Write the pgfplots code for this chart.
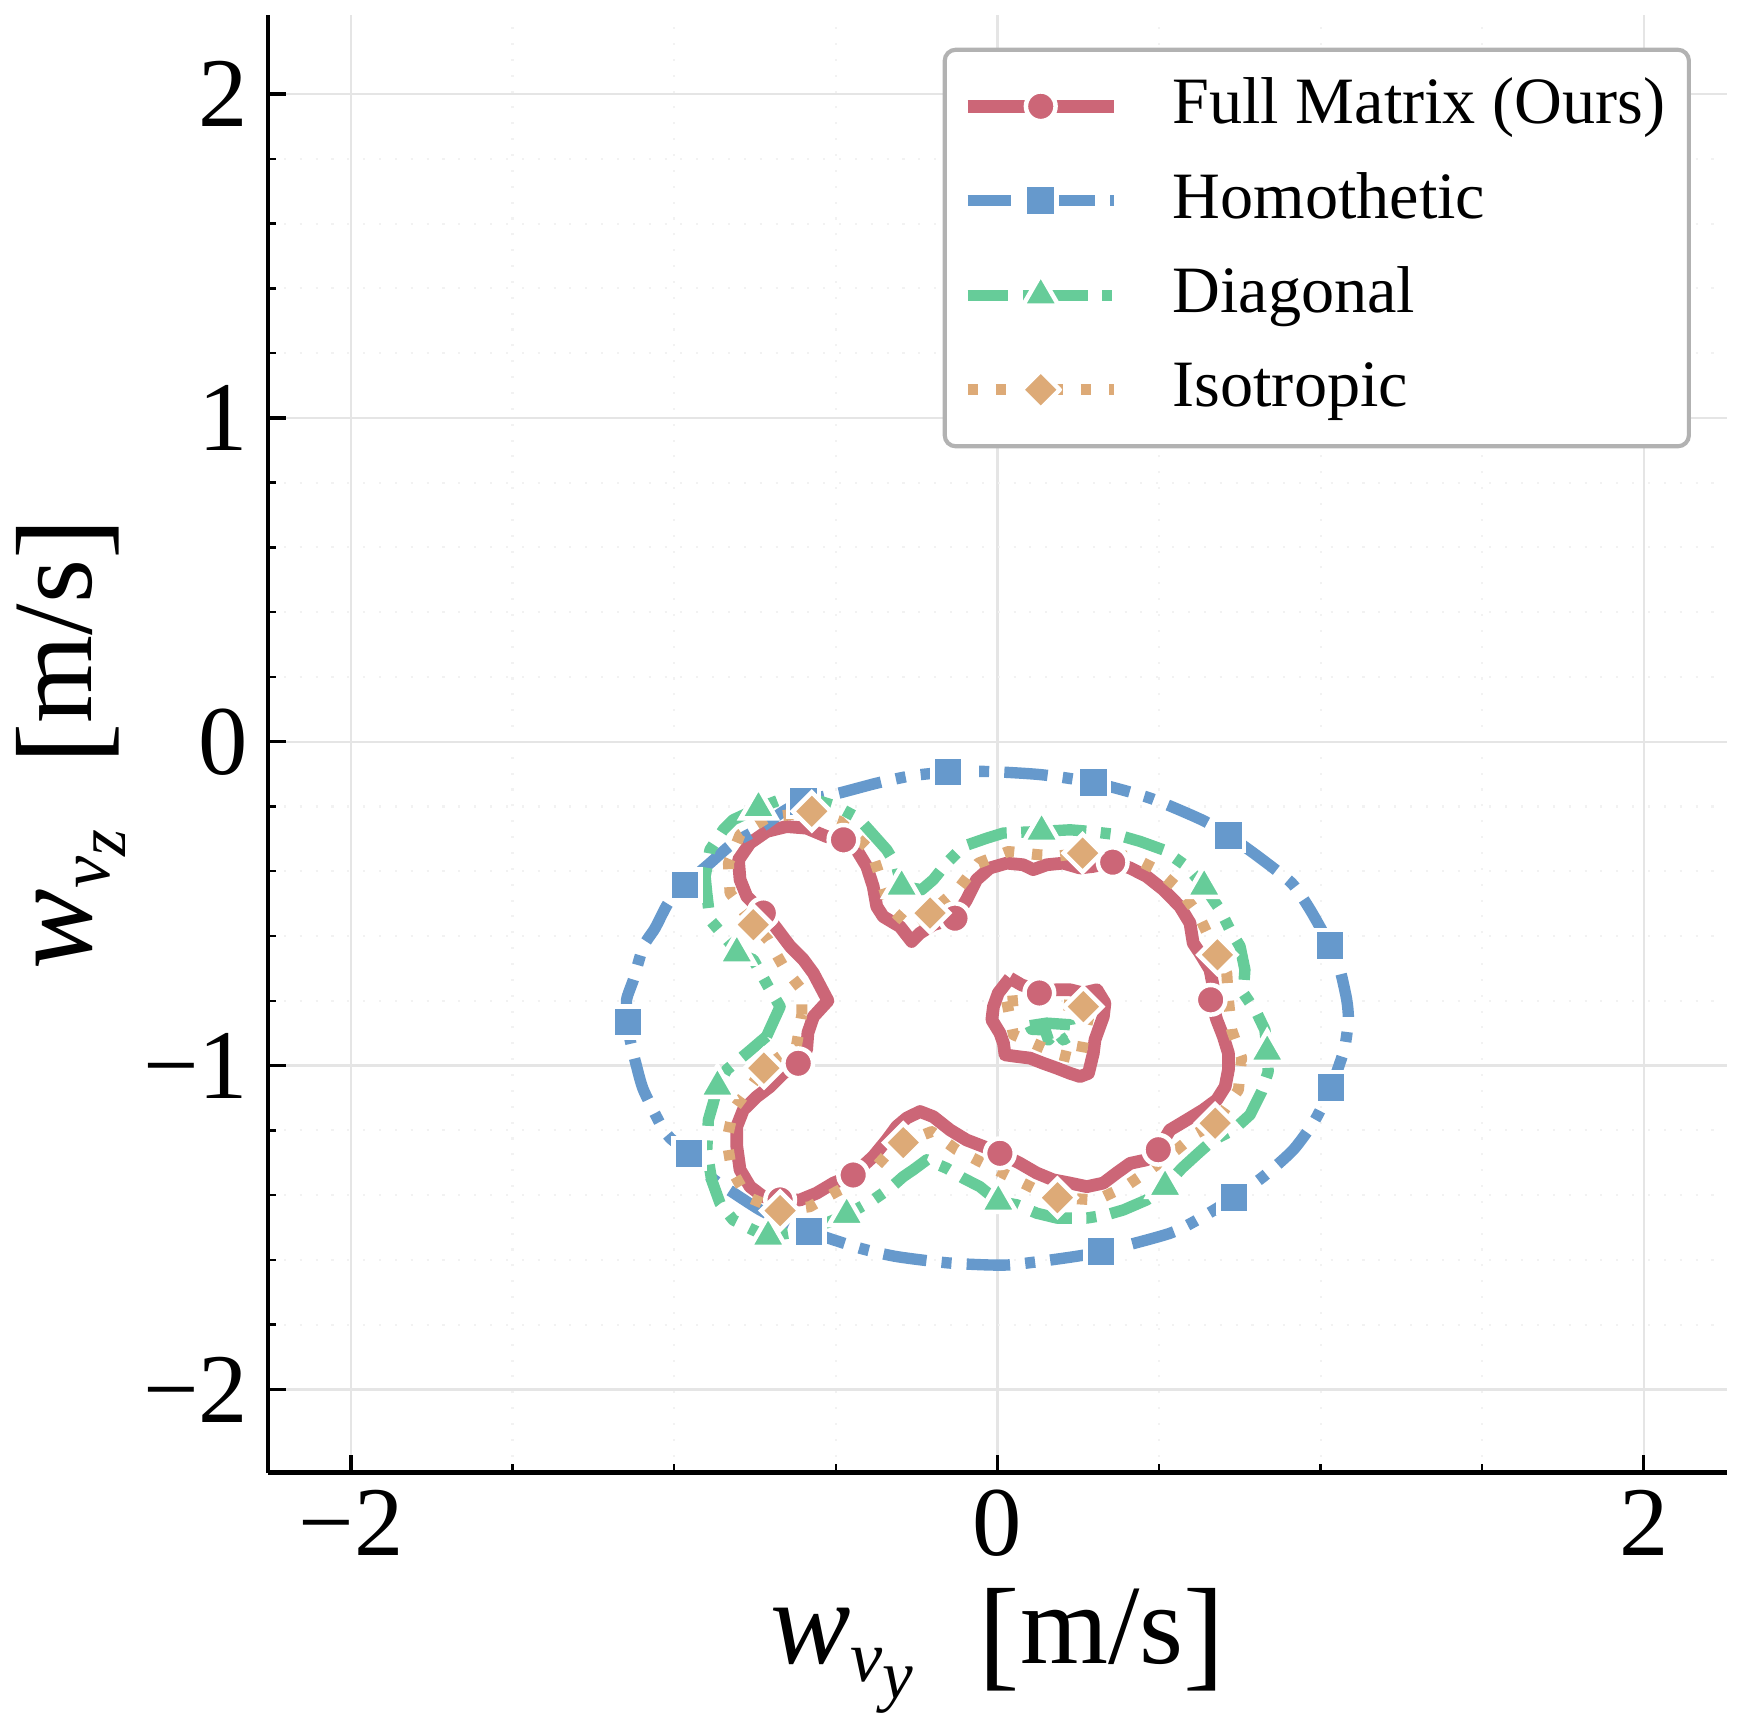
\documentclass[border=0pt]{standalone}
\usepackage{fontspec}
\setmainfont{Liberation Serif}
\usepackage{pgfplots}
\pgfplotsset{compat=1.18}
\definecolor{cred}{HTML}{CC6677}
\definecolor{cblue}{HTML}{6699CC}
\definecolor{cgreen}{HTML}{66CC99}
\definecolor{corange}{HTML}{DDAA77}
\newcommand{\lb}{\raisebox{-1.6pt}{\fontsize{18}{18}\selectfont [}}
\newcommand{\rb}{\raisebox{-1.6pt}{\fontsize{18}{18}\selectfont ]}}
\newcommand{\ww}{{\fontsize{17.5}{17.5}\selectfont\textit{w}}}
\tikzset{
  redln/.style={color=cred, line width=1.85pt, solid, line join=round},
  bluln/.style={color=cblue, line width=1.65pt, dash pattern=on 6.3pt off 2.2pt on 1.45pt off 2.2pt, line join=round},
  grnln/.style={color=cgreen, line width=1.65pt, dash pattern=on 5.9pt off 2.1pt on 1.45pt off 2.1pt, line join=round},
  orgln/.style={color=corange, line width=1.6pt, dash pattern=on 1.5pt off 2.6pt, line join=round},
  redmk/.style={mark=*, mark size=2.15pt, mark options={solid, fill=cred, draw=white, line width=0.65pt}},
  blumk/.style={mark=square*, mark size=2.25pt, mark options={solid, fill=cblue, draw=white, line width=0.65pt}},
  grnmk/.style={mark=triangle*, mark size=3.0pt, mark options={solid, fill=cgreen, draw=white, line width=0.65pt}},
  orgmk/.style={mark=square*, mark size=1.95pt, mark options={solid, rotate=45, fill=corange, draw=white, line width=0.65pt}},
}
\begin{document}
\begin{tikzpicture}
\useasboundingbox (-38.86pt,-37.9pt) rectangle (213.44pt,213.53pt);
\begin{axis}[
  at={(0pt,0pt)}, anchor=south west,
  scale only axis, width=211.56pt, height=211.35pt,
  xmin=-2.2565, xmax=2.2577, ymin=-2.257, ymax=2.244,
  axis x line*=bottom, axis y line*=left,
  axis line style={line width=0.7pt, black},
  tick align=inside,
  major tick length=2.6pt, minor tick length=1.2pt,
  major tick style={line width=0.5pt, black},
  minor tick style={line width=0.35pt, black},
  xtick={-2,0,2}, xticklabels={−2,0,2},
  ytick={-2,-1,0,1,2}, yticklabels={−2,−1,0,1,2},
  minor x tick num=3, minor y tick num=4,
  grid=both,
  major grid style={line width=0.35pt, color=black!10},
  minor grid style={line width=0.3pt, color=black!5, dotted},
  tick label style={font=\fontsize{14.3}{14.3}\selectfont},
  xticklabel style={anchor=north, inner sep=0pt, yshift=-2.3pt},
  yticklabel style={anchor=east, inner sep=0pt, xshift=-2.7pt},
  xlabel={\ww\raisebox{-2.6pt}{\fontsize{10.5}{10.5}\selectfont\textit{v}\raisebox{-2.4pt}{\fontsize{10}{10}\selectfont\textit{y}}}\hspace{9.5pt}\lb m/s\rb},
  ylabel={\ww\raisebox{-2.6pt}{\fontsize{10.5}{10.5}\selectfont\textit{v}\raisebox{-2.4pt}{\fontsize{10}{10}\selectfont\textit{z}}}\hspace{9.5pt}\lb m/s\rb},
  xlabel style={at={(axis description cs:0.5,-0.1311)}, anchor=base, font=\fontsize{16.4}{16.4}\selectfont, inner sep=0pt},
  ylabel style={at={(axis description cs:-0.1210,0.5)}, anchor=base, font=\fontsize{16.4}{16.4}\selectfont, inner sep=0pt},
  legend style={
    at={(axis description cs:0.9753,0.9776)}, anchor=north east,
    draw=black!30, line width=0.6pt, rounded corners=1.6pt,
    inner xsep=2.4pt, inner ysep=2.7pt,
    font=\fontsize{9.6}{9.6}\selectfont,
    row sep=2.7pt, column sep=6.6pt,
    nodes={inner sep=1pt, text height=7pt, text depth=2pt},
  },
  legend cell align=left,
  legend image code/.code={\draw[mark repeat=2,mark phase=2,#1] plot coordinates {(0pt,0pt) (10.6pt,0pt) (21.2pt,0pt)};},
]
\addlegendimage{redln, redmk}
\addlegendentry{Full Matrix (Ours)}
\addlegendimage{bluln, blumk}
\addlegendentry{Homothetic}
\addlegendimage{grnln, grnmk}
\addlegendentry{Diagonal}
\addlegendimage{orgln, orgmk}
\addlegendentry{Isotropic}

% Full Matrix (Ours)
\addplot[redln, forget plot] coordinates {
(-0.616,-0.993) (-0.590,-0.951) (-0.586,-0.899) (-0.569,-0.849) (-0.524,-0.800) (-0.569,-0.715) (-0.600,-0.673) (-0.641,-0.632) (-0.672,-0.591) (-0.703,-0.550) (-0.734,-0.519) (-0.775,-0.478) (-0.796,-0.426) (-0.801,-0.365) (-0.765,-0.313) (-0.713,-0.277) (-0.652,-0.262) (-0.590,-0.267) (-0.528,-0.293) (-0.476,-0.303) (-0.435,-0.334) (-0.404,-0.385) (-0.384,-0.447) (-0.373,-0.509) (-0.353,-0.540) (-0.301,-0.571) (-0.265,-0.617) (-0.239,-0.591) (-0.198,-0.565) (-0.131,-0.545) (-0.095,-0.488) (-0.064,-0.426) (-0.023,-0.390) (0.029,-0.375) (0.080,-0.380) (0.111,-0.395) (0.153,-0.380) (0.204,-0.375) (0.256,-0.390) (0.297,-0.385) (0.357,-0.372) (0.411,-0.390) (0.462,-0.416) (0.514,-0.457) (0.565,-0.509) (0.596,-0.560) (0.606,-0.622) (0.627,-0.653) (0.658,-0.704) (0.668,-0.756) (0.661,-0.797) (0.679,-0.859) (0.699,-0.910) (0.715,-0.962) (0.715,-1.013) (0.705,-1.065) (0.679,-1.106) (0.637,-1.137) (0.586,-1.168) (0.534,-1.199) (0.498,-1.260) (0.462,-1.291) (0.411,-1.302) (0.369,-1.332) (0.328,-1.363) (0.277,-1.374) (0.225,-1.363) (0.173,-1.353) (0.122,-1.332) (0.070,-1.302) (0.008,-1.271) (-0.043,-1.250) (-0.095,-1.230) (-0.146,-1.199) (-0.198,-1.158) (-0.239,-1.142) (-0.280,-1.162) (-0.311,-1.188) (-0.342,-1.230) (-0.384,-1.281) (-0.446,-1.338) (-0.507,-1.363) (-0.559,-1.394) (-0.610,-1.415) (-0.667,-1.415) (-0.724,-1.405) (-0.765,-1.374) (-0.796,-1.322) (-0.806,-1.250) (-0.806,-1.188) (-0.786,-1.137) (-0.744,-1.096) (-0.703,-1.065) (-0.662,-1.024) (-0.616,-0.993)
};
\addplot[redln, forget plot] coordinates {
(0.039,-0.730) (0.075,-0.751) (0.132,-0.771) (0.184,-0.766) (0.225,-0.766) (0.266,-0.776) (0.308,-0.766) (0.333,-0.807) (0.328,-0.849) (0.313,-0.890) (0.302,-0.921) (0.297,-0.962) (0.282,-1.024) (0.256,-1.034) (0.225,-1.024) (0.184,-1.008) (0.142,-0.993) (0.101,-0.977) (0.060,-0.972) (0.024,-0.967) (0.019,-0.931) (0.008,-0.900) (-0.017,-0.859) (-0.012,-0.818) (0.003,-0.776) (0.039,-0.730)
};
\addplot[only marks, redmk, forget plot] coordinates {
(-0.476,-0.303) (-0.724,-0.529) (-0.131,-0.545) (0.357,-0.372) (0.660,-0.797) (0.498,-1.260) (0.008,-1.271) (-0.446,-1.338) (-0.672,-1.415) (-0.616,-0.993) (0.130,-0.776)
};

% Homothetic
\addplot[bluln, smooth, tension=0.4, forget plot] coordinates {
(-1.143,-0.865) (-1.147,-0.797) (-1.126,-0.735) (-1.095,-0.632) (-1.059,-0.576) (-1.018,-0.498) (-0.966,-0.442) (-0.889,-0.375) (-0.817,-0.313) (-0.734,-0.267) (-0.663,-0.216) (-0.600,-0.184) (-0.487,-0.158) (-0.373,-0.128) (-0.264,-0.105) (-0.153,-0.094) (-0.028,-0.092) (0.137,-0.102) (0.297,-0.126) (0.472,-0.174) (0.632,-0.241) (0.715,-0.289) (0.813,-0.359) (0.911,-0.437) (0.968,-0.519) (1.029,-0.629) (1.060,-0.704) (1.081,-0.797) (1.086,-0.859) (1.073,-0.951) (1.032,-1.068) (0.983,-1.168) (0.916,-1.260) (0.823,-1.343) (0.732,-1.408) (0.637,-1.466) (0.534,-1.518) (0.321,-1.575) (0.204,-1.595) (0.029,-1.616) (-0.146,-1.610) (-0.311,-1.590) (-0.425,-1.564) (-0.583,-1.513) (-0.657,-1.483) (-0.734,-1.446) (-0.812,-1.396) (-0.889,-1.343) (-0.954,-1.271) (-1.013,-1.223) (-1.044,-1.178) (-1.095,-1.075) (-1.116,-1.003) (-1.136,-0.921) (-1.143,-0.865)
};
\addplot[only marks, blumk, forget plot] coordinates {
(-1.143,-0.865) (-0.966,-0.442) (-0.600,-0.184) (-0.153,-0.094) (0.297,-0.126) (0.715,-0.289) (1.029,-0.629) (1.032,-1.068) (0.732,-1.408) (0.321,-1.575) (-0.583,-1.513) (-0.954,-1.271)
};

% Diagonal
\addplot[grnln, forget plot] coordinates {
(-0.714,-0.910) (-0.672,-0.818) (-0.709,-0.756) (-0.755,-0.673) (-0.806,-0.653) (-0.827,-0.622) (-0.889,-0.550) (-0.899,-0.467) (-0.904,-0.416) (-0.889,-0.334) (-0.848,-0.272) (-0.817,-0.241) (-0.739,-0.205) (-0.672,-0.179) (-0.610,-0.174) (-0.549,-0.184) (-0.497,-0.200) (-0.430,-0.236) (-0.384,-0.287) (-0.342,-0.334) (-0.311,-0.385) (-0.296,-0.447) (-0.234,-0.457) (-0.198,-0.426) (-0.157,-0.375) (-0.105,-0.323) (-0.033,-0.298) (0.019,-0.282) (0.137,-0.277) (0.225,-0.272) (0.287,-0.277) (0.369,-0.287) (0.442,-0.308) (0.514,-0.334) (0.586,-0.385) (0.640,-0.447) (0.689,-0.519) (0.720,-0.581) (0.751,-0.632) (0.766,-0.704) (0.761,-0.776) (0.803,-0.838) (0.828,-0.890) (0.835,-0.957) (0.838,-1.019) (0.818,-1.080) (0.782,-1.152) (0.730,-1.199) (0.668,-1.230) (0.627,-1.266) (0.571,-1.317) (0.519,-1.374) (0.462,-1.415) (0.390,-1.446) (0.338,-1.461) (0.277,-1.471) (0.184,-1.471) (0.122,-1.456) (0.060,-1.430) (0.003,-1.420) (-0.054,-1.374) (-0.105,-1.348) (-0.157,-1.317) (-0.218,-1.291) (-0.260,-1.322) (-0.291,-1.343) (-0.332,-1.379) (-0.384,-1.415) (-0.466,-1.461) (-0.518,-1.482) (-0.590,-1.508) (-0.709,-1.528) (-0.755,-1.508) (-0.817,-1.477) (-0.858,-1.425) (-0.884,-1.353) (-0.899,-1.260) (-0.894,-1.168) (-0.879,-1.116) (-0.866,-1.065) (-0.837,-1.013) (-0.775,-0.962) (-0.714,-0.910)
};
\addplot[grnln, forget plot] coordinates {
(0.101,-0.877) (0.153,-0.869) (0.225,-0.874) (0.230,-0.905) (0.204,-0.921) (0.184,-0.895) (0.158,-0.921) (0.148,-0.890) (0.106,-0.888) (0.101,-0.877)
};
\addplot[only marks, grnmk, forget plot] coordinates {
(-0.806,-0.653) (-0.739,-0.205) (-0.296,-0.447) (0.137,-0.277) (0.640,-0.447) (0.835,-0.957) (0.519,-1.374) (0.003,-1.420) (-0.466,-1.461) (-0.709,-1.528) (-0.866,-1.065)
};

% Isotropic
\addplot[orgln, forget plot] coordinates {
(-0.605,-0.843) (-0.605,-0.766) (-0.662,-0.694) (-0.709,-0.612) (-0.755,-0.565) (-0.796,-0.509) (-0.827,-0.467) (-0.832,-0.375) (-0.796,-0.287) (-0.714,-0.236) (-0.574,-0.215) (-0.487,-0.246) (-0.389,-0.339) (-0.358,-0.432) (-0.332,-0.514) (-0.270,-0.571) (-0.208,-0.529) (-0.115,-0.447) (-0.059,-0.375) (0.034,-0.339) (0.127,-0.349) (0.194,-0.352) (0.264,-0.344) (0.411,-0.354) (0.493,-0.395) (0.565,-0.457) (0.622,-0.534) (0.681,-0.658) (0.710,-0.715) (0.715,-0.797) (0.725,-0.890) (0.756,-0.977) (0.746,-1.075) (0.674,-1.178) (0.617,-1.209) (0.555,-1.260) (0.472,-1.322) (0.395,-1.374) (0.308,-1.415) (0.186,-1.408) (0.122,-1.384) (0.039,-1.343) (-0.043,-1.302) (-0.126,-1.260) (-0.203,-1.204) (-0.291,-1.238) (-0.347,-1.281) (-0.404,-1.343) (-0.497,-1.389) (-0.580,-1.436) (-0.672,-1.448) (-0.775,-1.405) (-0.822,-1.322) (-0.837,-1.230) (-0.817,-1.137) (-0.760,-1.060) (-0.722,-1.008) (-0.621,-0.936) (-0.605,-0.843)
};
\addplot[orgln, forget plot] coordinates {
(0.029,-0.802) (0.050,-0.905) (0.122,-0.936) (0.194,-0.967) (0.256,-0.982) (0.271,-0.900) (0.282,-0.854) (0.266,-0.818) (0.194,-0.812) (0.091,-0.797) (0.029,-0.802)
};
\addplot[only marks, orgmk, forget plot] coordinates {
(-0.574,-0.215) (-0.755,-0.565) (-0.208,-0.529) (0.264,-0.344) (0.681,-0.658) (0.674,-1.178) (0.186,-1.408) (-0.291,-1.238) (-0.672,-1.448) (-0.722,-1.008) (0.266,-0.818)
};
\end{axis}
\end{tikzpicture}
\end{document}
